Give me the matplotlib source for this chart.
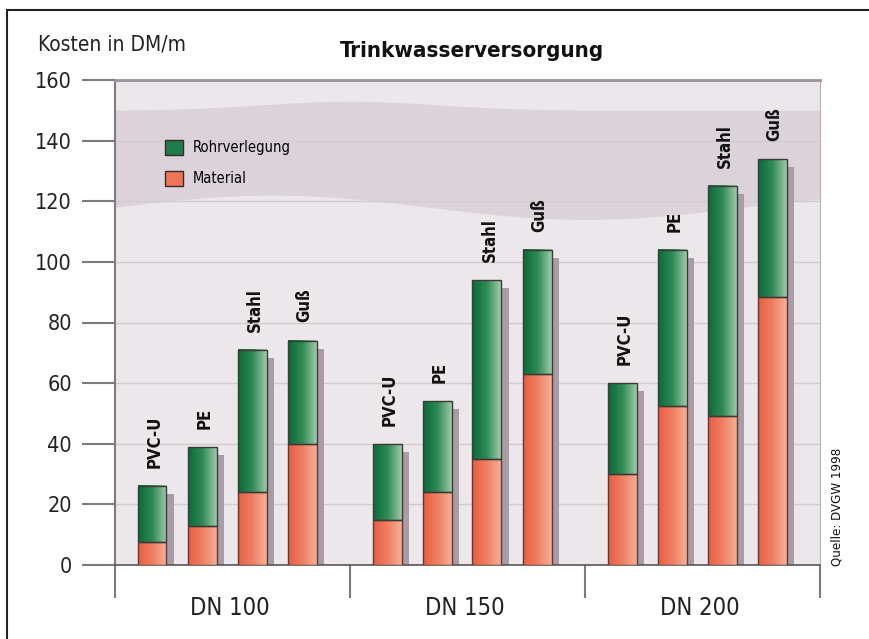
import numpy as np
import matplotlib
matplotlib.use("Agg")
import matplotlib.pyplot as plt
from matplotlib import font_manager
from matplotlib.font_manager import FontProperties
from matplotlib.colors import LinearSegmentedColormap
from matplotlib.patches import Patch, Rectangle

# data (DM per metre)
groups = ["DN 100", "DN 150", "DN 200"]
pipes = ["PVC-U", "PE", "Stahl", "Guß"]
material = [[7.5, 13, 24, 40],
            [15, 24, 35, 63],
            [30, 52.5, 49, 88.5]]
total = [[26, 39, 71, 74],
         [40, 54, 94, 104],
         [60, 104, 125, 134]]
yticks = [0, 20, 40, 60, 80, 100, 120, 140, 160]


def condensed(bold):
    # look for a narrow / condensed face that is installed
    for f in font_manager.fontManager.ttflist:
        n = f.name.lower()
        st = str(f.stretch)
        if "narrow" in n or "condensed" in n or st in ("condensed", "semi-condensed", "extra-condensed"):
            w = f.weight if isinstance(f.weight, int) else (700 if "bold" in str(f.weight) else 400)
            if (w >= 600) == bold and f.style == "normal":
                return f.fname
    return None


fr = condensed(False)
fb = condensed(True)
reg = FontProperties(fname=fr) if fr else FontProperties(family="DejaVu Sans")
bld = FontProperties(fname=fb) if fb else FontProperties(family="DejaVu Sans", weight="bold")

green_cm = LinearSegmentedColormap.from_list("g", ["#0b6a3a", "#2f8a55", "#9fcbab"])
orange_cm = LinearSegmentedColormap.from_list("o", ["#e85e42", "#ef7f62", "#f5b097"])
grad = np.linspace(0, 1, 64).reshape(1, -1)

fig = plt.figure(figsize=(8.69, 6.39), dpi=100)
ax = fig.add_axes([115/869, 74/639, 705/869, 485/639])
ax.set_facecolor("#ece7eb")

group_w = 4.7
bar_w = 0.58
xmax = group_w * 3

# faint band standing in for the pipe photo behind the bars
xs = np.linspace(0, xmax, 100)
ax.fill_between(xs, 118 + 4*np.sin(xs/2.0), 150 + 3*np.exp(-((xs-4.7)/2.5)**2),
                color="#cdc1ca", alpha=0.5, lw=0, zorder=0)

for g in range(len(groups)):
    for i, p in enumerate(pipes):
        x = g*group_w + 0.74 + i
        m = material[g][i]
        t = total[g][i]
        ax.bar(x + 0.15, t - 2.6, width=bar_w, color="#a99ca7", lw=0, zorder=2)
        ax.imshow(grad, extent=[x - bar_w/2, x + bar_w/2, 0, m], cmap=orange_cm,
                  aspect="auto", zorder=3)
        ax.imshow(grad, extent=[x - bar_w/2, x + bar_w/2, m, t], cmap=green_cm,
                  aspect="auto", zorder=3)
        ax.bar(x, m, width=bar_w, fill=False, edgecolor="#5b3b38", lw=1, zorder=4)
        ax.bar(x, t - m, bottom=m, width=bar_w, fill=False, edgecolor="#3d3a36", lw=1, zorder=4)
        ax.text(x + 0.05, t + 6, p, rotation=90, ha="center", va="bottom",
                fontproperties=bld, fontsize=12, color="#111111", zorder=5)

ax.set_xlim(0, xmax)
ax.set_ylim(0, 160)

ax.set_yticks(yticks)
ax.set_yticklabels([str(v) for v in yticks], fontproperties=reg, fontsize=15.5, color="#222222")
ax.tick_params(axis="y", length=24, width=1.5, color="#7f7a7e", pad=7)
ax.grid(axis="y", color="#d2cacf", lw=1, zorder=1)
ax.set_axisbelow(True)

ax.set_xticks([g*group_w + 2.3 for g in range(len(groups))])
ax.set_xticklabels(groups, fontproperties=reg, fontsize=17, color="#222222")
ax.tick_params(axis="x", which="major", length=0, pad=22)
ax.set_xticks([g*group_w for g in range(len(groups) + 1)], minor=True)
ax.tick_params(axis="x", which="minor", length=24, width=1.5, color="#7f7a7e")

ax.spines["left"].set_color("#7f7a7e")
ax.spines["left"].set_linewidth(1.5)
ax.spines["top"].set_color("#9b9399")
ax.spines["top"].set_linewidth(2)
ax.spines["right"].set_color("#b8b0b6")
ax.spines["bottom"].set_color("#5a5558")
ax.spines["bottom"].set_linewidth(1.2)

handles = [Patch(facecolor="#1f7d4a", edgecolor="#3a2a28", label="Rohrverlegung"),
           Patch(facecolor="#ee7558", edgecolor="#3a2a28", label="Material")]
lp = reg.copy()
lp.set_size(10.5)
ax.legend(handles=handles, loc="upper left", bbox_to_anchor=(0.06, 0.892),
          frameon=False, prop=lp, handlelength=1.25, handleheight=1.25,
          labelspacing=1.05, handletextpad=0.7, borderpad=0)

fig.text(38/869, 1 - 50/639, "Kosten in DM/m", fontproperties=reg, fontsize=15,
         color="#222222", ha="left", va="baseline")
fig.text(340/869, 1 - 57/639, "Trinkwasserversorgung", fontproperties=bld, fontsize=16,
         color="#111111", ha="left", va="baseline")
fig.text(837/869, 1 - 507/639, "Quelle: DVGW 1998", rotation=90, fontproperties=reg,
         fontsize=9.5, color="#111111", ha="center", va="center")

fig.add_artist(Rectangle((7/869, -0.1), 1.2, 1.1 - 10/639, fill=False,
                         edgecolor="#222222", lw=1.5, transform=fig.transFigure))

fig.savefig("out.png", dpi=100)
